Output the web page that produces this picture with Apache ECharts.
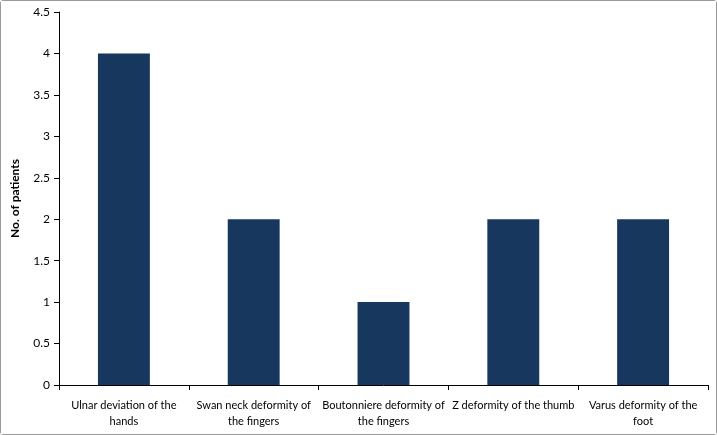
<!DOCTYPE html>
<html>
<head>
<meta charset="utf-8">
<script src="https://cdn.jsdelivr.net/npm/echarts@6/dist/echarts.min.js"></script>
<style>
    html, body { margin: 0; padding: 0; background: #fff; }
    #chart { width: 717px; height: 435px; box-sizing: border-box; border: 1px solid #9a9a9a; border-radius: 3px; }
</style>
</head>
<body>
<div id="chart"></div>
<script>
    // categories and counts
    var categories = [
        'Ulnar deviation of the\nhands',
        'Swan neck deformity of\nthe fingers',
        'Boutonniere deformity of\nthe fingers',
        'Z deformity of the thumb',
        'Varus deformity of the\nfoot'
    ];
    var patients = [4, 2, 1, 2, 2];

    var chart = echarts.init(document.getElementById('chart'));
    var option = {
        backgroundColor: '#fff',
        animation: false,
        grid: {
            left: 56,
            right: 8,
            top: 11,
            bottom: 49
        },
        xAxis: {
            type: 'category',
            data: categories,
            boundaryGap: true,
            axisLine: { lineStyle: { color: '#000', width: 1 } },
            axisTick: { show: true, alignWithLabel: false, length: 5, lineStyle: { color: '#000' } },
            axisLabel: {
                interval: 0,
                color: '#000',
                fontFamily: 'Lato',
                fontSize: 11,
                lineHeight: 16,
                margin: 12
            }
        },
        yAxis: {
            type: 'value',
            min: 0,
            max: 4.5,
            interval: 0.5,
            name: 'No. of patients',
            nameLocation: 'middle',
            nameGap: 38,
            nameTextStyle: {
                color: '#000',
                fontWeight: 'bold',
                fontFamily: 'Lato',
                fontSize: 12
            },
            axisLine: { show: true, lineStyle: { color: '#000', width: 1 } },
            axisTick: { show: true, length: 5, lineStyle: { color: '#000' } },
            axisLabel: {
                color: '#000',
                fontFamily: 'Lato',
                fontSize: 12,
                margin: 9
            },
            splitLine: { show: false }
        },
        series: [{
            type: 'bar',
            data: patients,
            barWidth: '40%',
            itemStyle: { color: '#17375E' }
        }]
    };
    chart.setOption(option);
</script>
</body>
</html>
